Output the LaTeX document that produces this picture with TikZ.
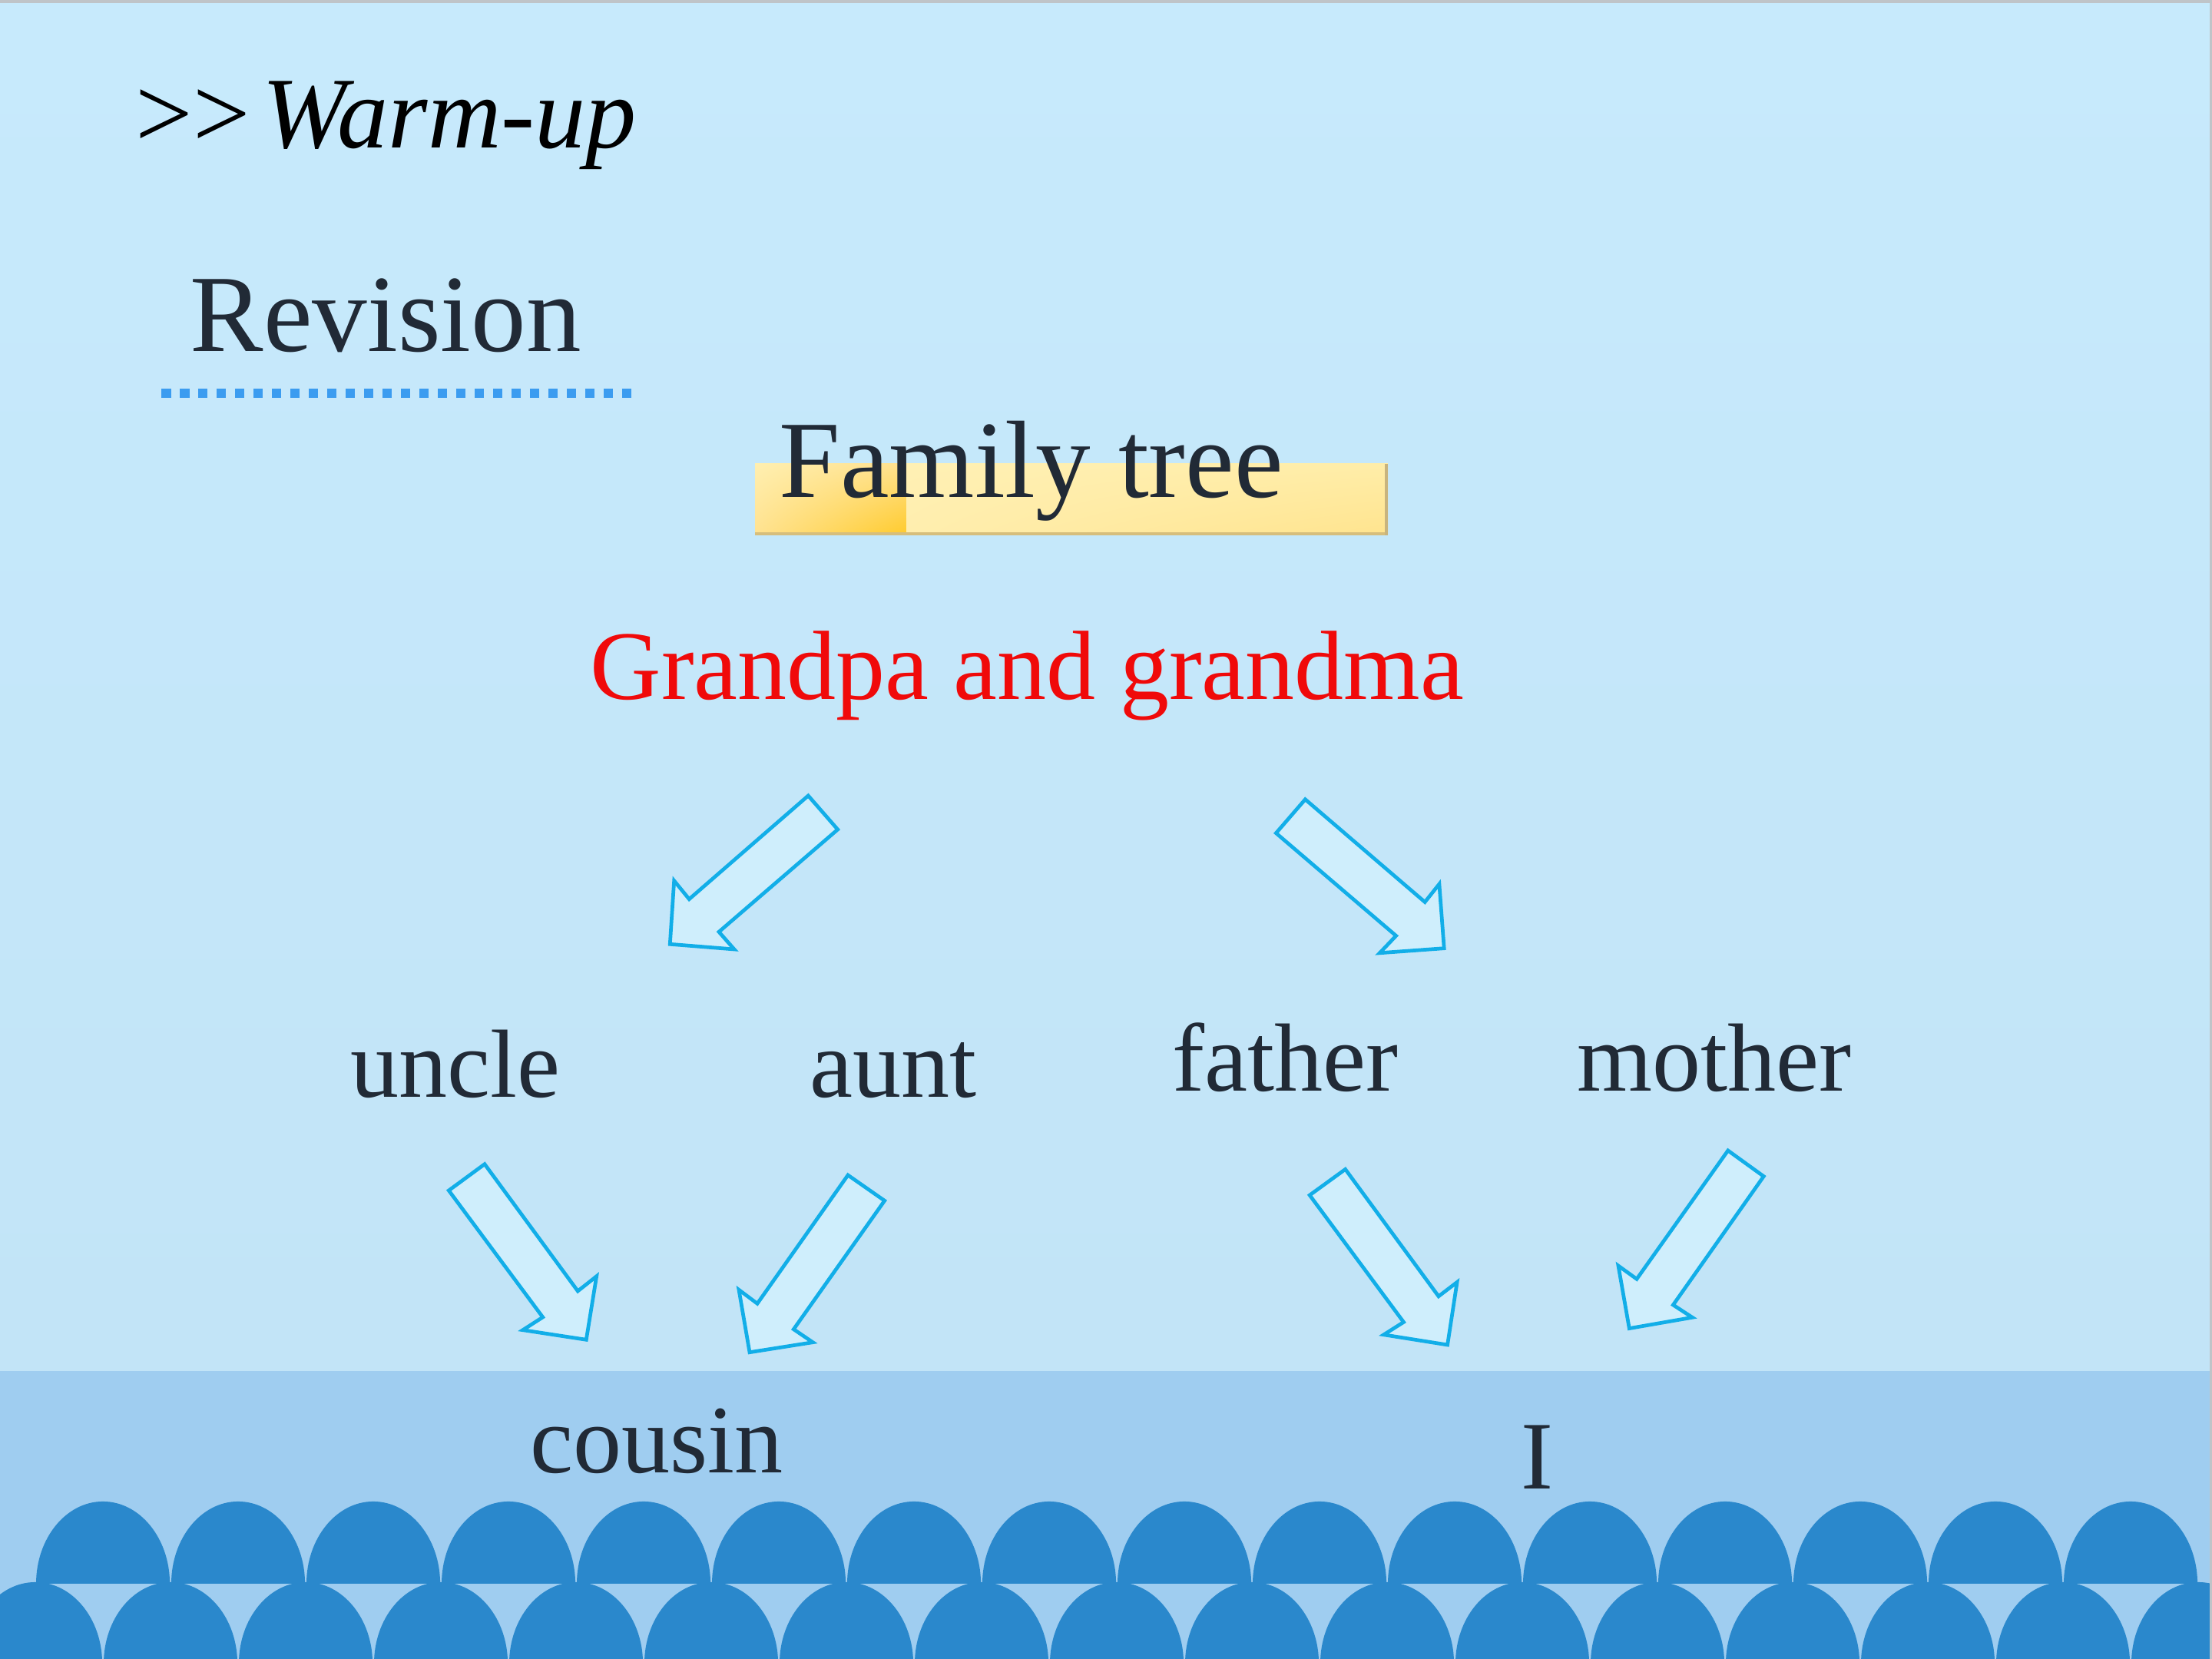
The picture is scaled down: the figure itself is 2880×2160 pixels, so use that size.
\documentclass[tikz,border=0pt]{standalone}
\usepackage{fontspec}
\usetikzlibrary{shadings}
\setmainfont{Liberation Serif}
\definecolor{bgtop}{HTML}{C7EAFC}
\definecolor{bgbot}{HTML}{C2E4F7}
\definecolor{band}{HTML}{9FCDF0}
\definecolor{wave}{HTML}{2A88CC}
\definecolor{textdark}{HTML}{212A36}
\definecolor{arrowline}{HTML}{12AEE8}
\definecolor{arrowfill}{HTML}{CFEEFC}
\definecolor{redtext}{HTML}{F00A0A}
\definecolor{dotblue}{HTML}{3B9CF0}
\definecolor{bordergray}{HTML}{BFC4C8}
\definecolor{barshadow}{HTML}{D6BE7C}
\definecolor{barside}{HTML}{C8B47E}
\definecolor{barA}{HTML}{FFEFB0}
\definecolor{barB}{HTML}{FFE08C}
\definecolor{barC}{HTML}{FFE290}
\definecolor{barD}{HTML}{FFCB2C}
\definecolor{barE}{HTML}{FFF0B4}
\definecolor{barF}{HTML}{FFEDA8}
\definecolor{barG}{HTML}{FFEEAE}
\definecolor{barH}{HTML}{FFE48E}
\begin{document}
\begin{tikzpicture}[x=0.01cm,y=0.01cm,
  word/.style={anchor=base west, inner sep=0pt, text=textdark, font=\fontsize{35.85}{40}\selectfont},
  bigword/.style={anchor=base west, inner sep=0pt, text=textdark, font=\fontsize{40.7}{45}\selectfont},
  blockarrow/.style={draw=arrowline, fill=arrowfill, line width=1.35pt, line join=miter},
  wavefill/.style={fill=wave}]
\useasboundingbox (0,0) rectangle (2880,2160);
\begin{scope}
\clip (0,0) rectangle (2880,2160);
% background
\shade[top color=bgtop, bottom color=bgbot] (0,375) rectangle (2880,2160);
\fill[band] (0,0) rectangle (2880,375);
% scallops
\foreach \k in {0,...,15}
  \fill[wavefill] ({134+176*\k-87},98) arc[start angle=180, end angle=0, x radius=0.87cm, y radius=1.07cm] -- cycle;
\foreach \k in {0,...,16}
  \fill[wavefill] ({46+176*\k-87},-6) arc[start angle=180, end angle=0, x radius=0.87cm, y radius=1.06cm] -- cycle;
% border
\fill[bordergray] (0,2156) rectangle (2880,2160);
\fill[bordergray] (2877,0) rectangle (2880,2160);
\end{scope}

% header
\node[anchor=base west, inner sep=0pt, text=black, font=\fontsize{37.6}{42}\selectfont] (warm) at (176,1967) {>\kern0pt>\kern0.12em\textit{Warm-up}};
\node[bigword] (revision) at (247,1702) {Revision};
\coordinate (dotL) at (210,1648);
\coordinate (dotR) at (822,1648);
\draw[dotblue, line width=3.41pt, dash pattern=on 0.125cm off 0.1148cm] (dotL) -- (dotR);

% title bar
\shade[upper left=barA, upper right=barB, lower left=barC, lower right=barD]
  (983,1463) rectangle (1180,1556);
\shade[upper left=barE, upper right=barF, lower left=barG, lower right=barH]
  (1180,1463) rectangle (1807,1556);
\fill[barshadow] (983,1463) rectangle (1807,1467);
\fill[barside] (1803,1463) rectangle (1807,1556);
\node[bigword] (familytree) at (1014,1512) {Family tree};

% grandparents
\node[anchor=base west, inner sep=0pt, text=redtext, font=\fontsize{36.4}{40}\selectfont] (grandpa) at (768,1249) {Grandpa and grandma};

% block arrows, first generation
\draw[blockarrow] (1052.3,1124) -- (1090.7,1080) -- (936,946.7) -- (956,924) -- (872.3,930.7) -- (877.7,1013.3) -- (897.3,989.3) -- cycle;
\draw[blockarrow] (1699.4,1119.2) -- (1855.2,985.5) -- (1873.9,1009) -- (1880.2,925.3) -- (1796.3,919.2) -- (1817.7,941.6) -- (1661.4,1075.3) -- cycle;

% second generation
\node[word] (uncle) at (456,731) {uncle};
\node[word] (aunt) at (1054,731) {aunt};
\node[word] (father) at (1526,739) {father};
\node[word] (mother) at (2053,739) {mother};

% block arrows, second generation
\draw[blockarrow] (631,644.3) -- (752.3,479) -- (776.7,498.3) -- (763.3,415.7) -- (680.7,428.3) -- (706.7,445) -- (584.3,610) -- cycle;
\draw[blockarrow] (1104,630) -- (1151.7,596.7) -- (1033.3,429.3) -- (1058.3,412.3) -- (976,399.3) -- (962,480.7) -- (986,462.7) -- cycle;
\draw[blockarrow] (1751.6,637.6) -- (1873,472.2) -- (1897.1,490.6) -- (1884.6,409) -- (1801.6,422.2) -- (1827.5,438.6) -- (1705.2,603.9) -- cycle;
\draw[blockarrow] (2249.8,662) -- (2296.3,628.4) -- (2178.4,461) -- (2203.4,444.7) -- (2121.3,430.4) -- (2107,512) -- (2131,494.7) -- cycle;

% third generation
\node[word] (cousin) at (690,242) {cousin};
\node[word] (me) at (1980,221) {I};
\end{tikzpicture}
\end{document}
